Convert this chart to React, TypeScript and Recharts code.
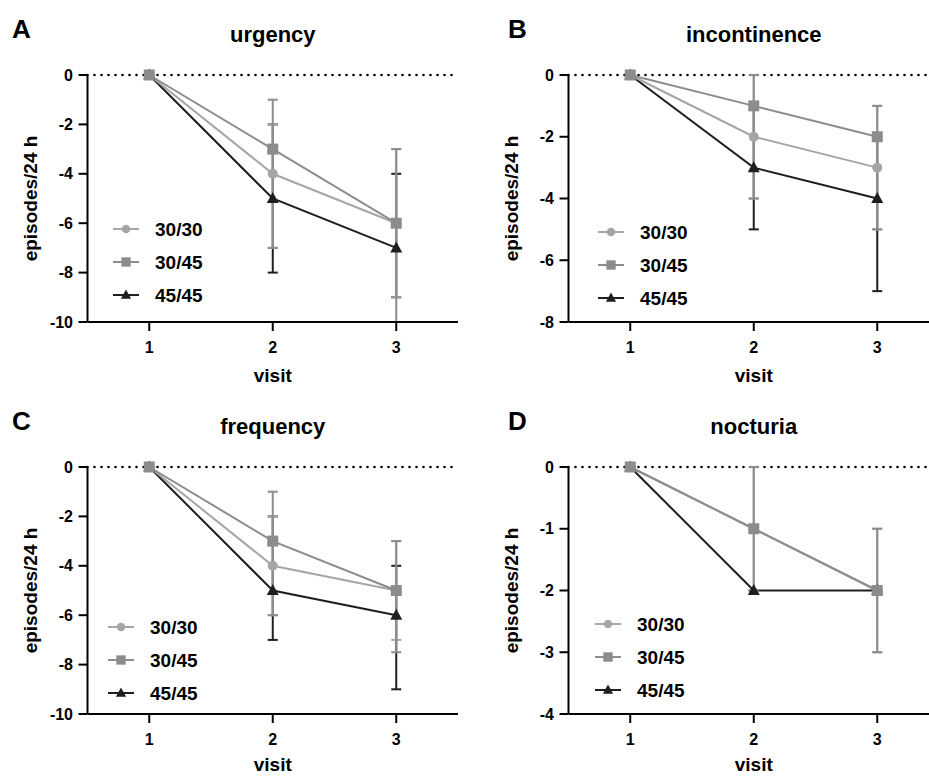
import { LineChart, Line, XAxis, YAxis, ErrorBar, ReferenceLine, Legend, Label } from "recharts";

const FONT = "'Liberation Sans', Arial, Helvetica, sans-serif";

const visits = [1, 2, 3];
const groups = ["30/30", "30/45", "45/45"];
const groupColors = ["#a6a6a6", "#8c8c8c", "#1e1e1e"];
const groupShapes = ["circle", "square", "triangle"];
// black series goes underneath the grey ones
const drawOrder = [2, 0, 1];

// A - urgency (median, range low / high)
const urgencyMean = [
  [0, -4, -6],
  [0, -3, -6],
  [0, -5, -7],
];
const urgencyLow = [
  [0, -7, -9],
  [0, -7, -10],
  [0, -8, -9],
];
const urgencyHigh = [
  [0, -2, -3],
  [0, -1, -3],
  [0, -2, -4],
];

// B - incontinence
const incontinenceMean = [
  [0, -2, -3],
  [0, -1, -2],
  [0, -3, -4],
];
const incontinenceLow = [
  [0, -4, -5],
  [0, -4, -5],
  [0, -5, -7],
];
const incontinenceHigh = [
  [0, 0, -1],
  [0, 0, -1],
  [0, -1, -2],
];

// C - frequency
const frequencyMean = [
  [0, -4, -5],
  [0, -3, -5],
  [0, -5, -6],
];
const frequencyLow = [
  [0, -6, -7],
  [0, -6, -7.5],
  [0, -7, -9],
];
const frequencyHigh = [
  [0, -2, -3],
  [0, -1, -3],
  [0, -2, -4],
];

// D - nocturia
const nocturiaMean = [
  [0, -1, -2],
  [0, -1, -2],
  [0, -2, -2],
];
const nocturiaLow = [
  [0, -2, -3],
  [0, -2, -3],
  [0, -2, -2],
];
const nocturiaHigh = [
  [0, 0, -1],
  [0, 0, -1],
  [0, -2, -2],
];

const ticks10 = [-10, -8, -6, -4, -2, 0];
const ticks8 = [-8, -6, -4, -2, 0];
const ticks4 = [-4, -3, -2, -1, 0];

function buildRows(mean: number[][], low: number[][], high: number[][]) {
  return visits.map((v, i) => {
    const row: any = { visit: v };
    groups.forEach((_, k) => {
      row[`m${k}`] = mean[k][i];
      row[`e${k}`] = [mean[k][i] - low[k][i], high[k][i] - mean[k][i]];
    });
    return row;
  });
}

function Marker({ shape, color, cx, cy, s = 1 }: any) {
  if (cx == null || cy == null) return null;
  if (shape === "circle") return <circle cx={cx} cy={cy} r={5 * s} fill={color} />;
  if (shape === "square")
    return <rect x={cx - 5.5 * s} y={cy - 5.5 * s} width={11 * s} height={11 * s} fill={color} />;
  return (
    <polygon
      points={`${cx},${cy - 6.5 * s} ${cx + 6 * s},${cy + 4.5 * s} ${cx - 6 * s},${cy + 4.5 * s}`}
      fill={color}
    />
  );
}

function dotFor(k: number) {
  return (props: any) => (
    <Marker key={`d${k}-${props.index}`} shape={groupShapes[k]} color={groupColors[k]} cx={props.cx} cy={props.cy} />
  );
}

function LegendBox() {
  return (
    <svg width={130} height={92} style={{ display: "block", overflow: "visible" }}>
      {groups.map((g, k) => {
        const y = 12 + k * 33;
        return (
          <g key={g}>
            <line x1={0} x2={26} y1={y} y2={y} stroke={groupColors[k]} strokeWidth={2} />
            <Marker shape={groupShapes[k]} color={groupColors[k]} cx={13} cy={y} s={0.85} />
            <text x={42} y={y} dy="0.35em" fontFamily={FONT} fontWeight="bold" fontSize={19} fill="#000">
              {g}
            </text>
          </g>
        );
      })}
    </svg>
  );
}

type PanelProps = {
  letter: string;
  letterX: number;
  title: string;
  left: number;
  top: number;
  yMin: number;
  yTicks: number[];
  rows: any[];
  legendX: number;
  legendY: number;
  visitOffset: number;
};

function Panel({ letter, letterX, title, left, top, yMin, yTicks, rows, legendX, legendY, visitOffset }: PanelProps) {
  const tickStyle = { fontFamily: FONT, fontWeight: "bold", fontSize: 16, fill: "#000" };
  return (
    <div style={{ position: "absolute", left, top }}>
      <LineChart width={470} height={400} data={rows} margin={{ top: 75, right: 12, bottom: 13, left: 27.5 }}>
        <text x={letterX} y={38} fontFamily={FONT} fontWeight="bold" fontSize={26} fill="#000">
          {letter}
        </text>
        <text x={272.75} y={42} textAnchor="middle" fontFamily={FONT} fontWeight="bold" fontSize={22} fill="#000">
          {title}
        </text>
        <ReferenceLine y={0} stroke="#000" strokeWidth={2.6} strokeDasharray="0 7" strokeLinecap="round" />
        <XAxis
          dataKey="visit"
          type="number"
          domain={[0.5, 3.5]}
          ticks={visits}
          height={65}
          tickSize={9}
          tickMargin={11}
          axisLine={{ stroke: "#000", strokeWidth: 2 }}
          tickLine={{ stroke: "#000", strokeWidth: 2 }}
          tick={tickStyle}
        >
          <Label
            value="visit"
            position="insideBottom"
            offset={visitOffset}
            fontFamily={FONT}
            fontWeight="bold"
            fontSize={19}
            fill="#000"
          />
        </XAxis>
        <YAxis
          type="number"
          domain={[yMin, 0]}
          ticks={yTicks}
          interval={0}
          width={60}
          tickSize={9}
          tickMargin={5.5}
          axisLine={{ stroke: "#000", strokeWidth: 2 }}
          tickLine={{ stroke: "#000", strokeWidth: 2 }}
          tick={tickStyle}
        >
          <Label
            value="episodes/24 h"
            angle={-90}
            position="insideLeft"
            offset={3}
            fontFamily={FONT}
            fontWeight="bold"
            fontSize={19}
            fill="#000"
            style={{ textAnchor: "middle" }}
          />
        </YAxis>
        <Legend
          layout="horizontal"
          align="center"
          verticalAlign="middle"
          wrapperStyle={{ left: legendX, top: legendY - 12, width: 140 }}
          content={() => <LegendBox />}
        />
        {drawOrder.map((k) => (
          <Line
            key={groups[k]}
            name={groups[k]}
            type="linear"
            dataKey={`m${k}`}
            stroke={groupColors[k]}
            strokeWidth={2}
            dot={dotFor(k)}
            activeDot={false}
            isAnimationActive={false}
          >
            <ErrorBar dataKey={`e${k}`} width={5} stroke={groupColors[k]} strokeWidth={2} isAnimationActive={false} />
          </Line>
        ))}
      </LineChart>
    </div>
  );
}

export default function App() {
  return (
    <div
      style={{
        position: "absolute",
        left: 0,
        top: 0,
        width: 929,
        height: 776,
        overflow: "hidden",
        background: "#fff",
      }}
    >
      <Panel
        letter="A"
        letterX={12}
        title="urgency"
        left={0}
        top={0}
        yMin={-10}
        yTicks={ticks10}
        rows={buildRows(urgencyMean, urgencyLow, urgencyHigh)}
        legendX={113}
        legendY={229}
        visitOffset={5}
      />
      <Panel
        letter="B"
        letterX={27}
        title="incontinence"
        left={481}
        top={0}
        yMin={-8}
        yTicks={ticks8}
        rows={buildRows(incontinenceMean, incontinenceLow, incontinenceHigh)}
        legendX={117}
        legendY={232}
        visitOffset={5}
      />
      <Panel
        letter="C"
        letterX={12}
        title="frequency"
        left={0}
        top={392}
        yMin={-10}
        yTicks={ticks10}
        rows={buildRows(frequencyMean, frequencyLow, frequencyHigh)}
        legendX={108}
        legendY={235}
        visitOffset={8}
      />
      <Panel
        letter="D"
        letterX={27}
        title="nocturia"
        left={481}
        top={392}
        yMin={-4}
        yTicks={ticks4}
        rows={buildRows(nocturiaMean, nocturiaLow, nocturiaHigh)}
        legendX={114}
        legendY={232}
        visitOffset={8}
      />
    </div>
  );
}
